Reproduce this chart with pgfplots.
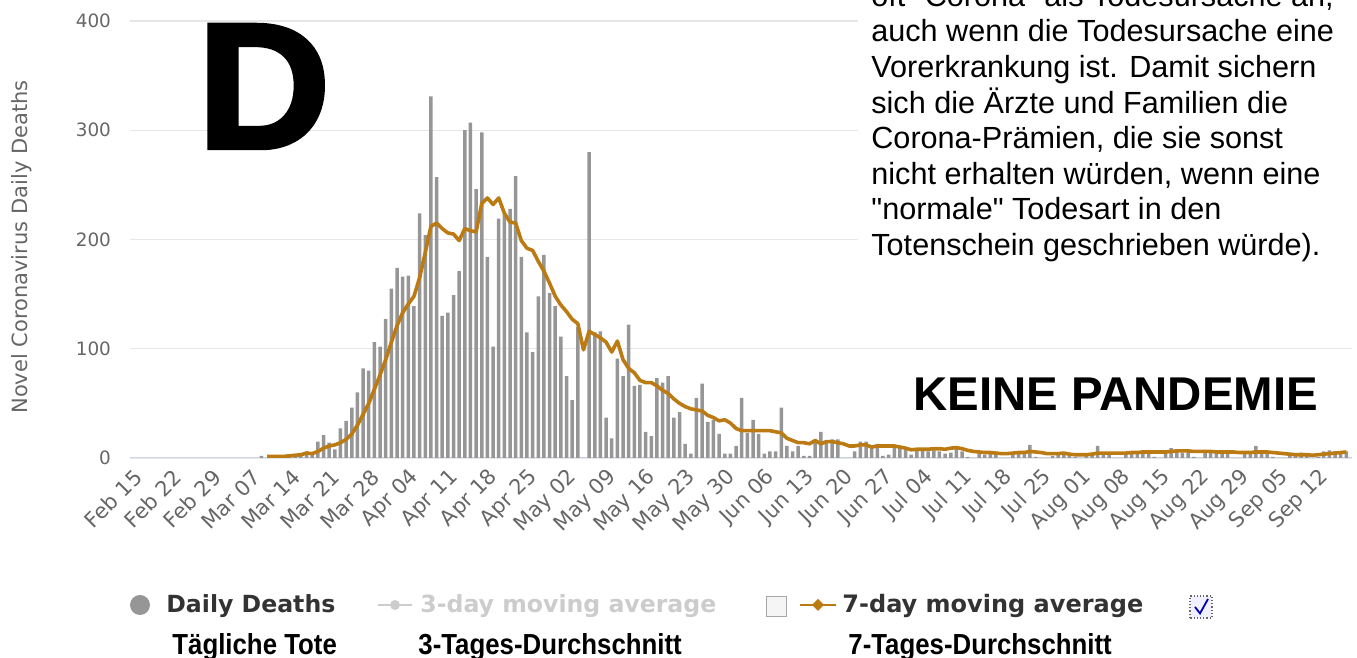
\documentclass[border=0pt]{standalone}
\usepackage{fontspec}
\setmainfont{DejaVu Sans}
\newfontfamily\arial{Liberation Sans}
\newfontfamily\heavy[FakeBold=2.5]{Liberation Sans Bold}
\newfontfamily\narrowb[FakeStretch=0.89]{Liberation Sans Bold}
\usepackage{pgfplots}
\pgfplotsset{compat=1.18}
\usepackage{pgfplotstable}
\definecolor{barGray}{RGB}{150,150,150}
\definecolor{lineOrange}{RGB}{188,122,18}
\definecolor{gridGray}{RGB}{230,230,230}
\definecolor{axisBlue}{RGB}{204,214,235}
\definecolor{tickGray}{RGB}{102,102,102}
\definecolor{legendDark}{RGB}{51,51,51}
\definecolor{legendLight}{RGB}{204,204,204}

\pgfplotstableread{
d v
23 2
24 0
25 1
26 1
27 2
28 1
29 3
30 2
31 6
32 3
33 15
34 21
35 14
36 8
37 27
38 34
39 46
40 60
41 82
42 80
43 106
44 102
45 127
46 155
47 174
48 166
49 167
50 139
51 224
52 204
53 331
54 257
55 130
56 133
57 149
58 171
59 300
60 307
61 246
62 298
63 184
64 102
65 219
66 223
67 228
68 258
69 184
70 115
71 97
72 148
73 186
74 151
75 139
76 111
77 75
78 53
79 120
80 0
81 280
82 115
83 116
84 37
85 18
86 91
87 75
88 122
89 66
90 67
91 24
92 20
93 73
94 69
95 75
96 37
97 42
98 13
99 4
100 55
101 68
102 33
103 35
104 22
105 4
106 4
107 11
108 55
109 23
110 35
111 22
112 4
113 6
114 6
115 46
116 11
117 6
118 11
119 2
120 2
121 14
122 24
123 14
124 17
125 17
126 0
127 0
128 6
129 15
130 15
131 9
132 13
133 2
134 3
135 12
136 9
137 8
138 3
139 7
140 8
141 6
142 7
143 6
144 4
145 5
146 9
147 6
148 1
149 0
150 4
151 3
152 5
153 4
154 0
155 0
156 5
157 6
158 4
159 12
160 1
161 0
162 0
163 2
164 4
165 5
166 4
167 1
168 0
169 3
170 5
171 11
172 5
173 4
174 0
175 0
176 4
177 6
178 5
179 7
180 6
181 1
182 0
183 6
184 9
185 7
186 5
187 6
188 1
189 0
190 5
191 7
192 6
193 5
194 4
195 0
196 0
197 4
198 6
199 11
200 5
201 5
202 1
203 0
204 0
205 4
206 3
207 5
208 4
209 0
210 1
211 6
212 7
213 6
214 5
215 6
}\bars

\pgfplotstableread{
d v
24 1.5
25 1.5
26 1.5
27 1.5
28 2
29 2.5
30 3
31 4.5
32 4
33 6
34 9
35 11
36 12
37 14
38 17
39 22
40 30
41 40
42 50
43 63
44 76
45 90
46 106
47 121
48 133
49 141
50 148
51 165
52 188
53 212
54 215
55 210
56 206
57 205
58 199
59 210
60 208
61 207
62 233
63 238
64 232
65 238
66 224
67 216
68 215
69 199
70 192
71 190
72 180
73 171
74 160
75 148
76 140
77 134
78 127
79 123
80 99
81 116
82 113
83 110
84 106
85 97
86 107
87 90
88 82
89 78
90 71
91 69
92 69
93 66
94 62
95 59
96 54
97 50
98 47
99 45
100 44
101 43
102 39
103 37
104 34
105 35
106 32
107 27
108 25
109 25
110 25
111 25
112 25
113 25
114 24
115 23
116 18
117 16
118 14
119 14
120 13
121 16
122 13
123 15
124 15
125 14
126 13
127 11
128 11
129 12
130 12
131 10
132 11
133 11
134 11
135 11
136 10
137 9
138 7.5
139 8
140 8
141 8
142 8.5
143 8.5
144 8
145 9
146 9.5
147 8.5
148 7
149 6
150 5.5
151 5
152 5
153 4.5
154 4
155 4
156 4.5
157 5
158 5
159 6
160 5.5
161 5
162 4
163 4
164 4
165 4.5
166 3.5
167 3
168 3
169 3
170 3.5
171 4.5
172 4.5
173 4.5
174 4.5
175 4.5
176 4.5
177 5
178 5
179 5.5
180 5.5
181 5.5
182 5.5
183 5.5
184 6
185 6.5
186 6.5
187 6.5
188 6
189 6
190 6
191 6
192 5.5
193 5.5
194 5.5
195 5.5
196 5
197 5
198 5
199 5.5
200 5.5
201 5.5
202 5
203 4.5
204 4
205 3.5
206 3
207 3
208 3
209 2.5
210 3
211 3.5
212 4
213 4.5
214 5
215 5.5
}\avg

\begin{document}
\begin{tikzpicture}
\useasboundingbox (0,0) rectangle (678.5pt,329pt);
\begin{axis}[
  at={(65pt,100pt)}, anchor=south west,
  width=611pt, height=218.5pt, scale only axis,
  xmin=-0.25, xmax=216, ymin=0, ymax=400,
  ytick={0,100,200,300,400},
  xtick={0,7,...,210},
  xticklabels={Feb 15,Feb 22,Feb 29,Mar 07,Mar 14,Mar 21,Mar 28,Apr 04,Apr 11,Apr 18,Apr 25,May 02,May 09,May 16,May 23,May 30,Jun 06,Jun 13,Jun 20,Jun 27,Jul 04,Jul 11,Jul 18,Jul 25,Aug 01,Aug 08,Aug 15,Aug 22,Aug 29,Sep 05,Sep 12},
  axis line style={draw=none},
  major tick length=0pt,
  ymajorgrids, grid style={color=gridGray, line width=0.6pt},
  xticklabel style={rotate=45, anchor=east, font=\fontsize{10.5}{11}\selectfont, text=tickGray, inner sep=0pt, xshift=-3pt, yshift=-8pt},
  yticklabel style={font=\fontsize{9.2}{10}\selectfont, text=tickGray, xshift=-6pt},
  /pgf/number format/assume math mode=true,
]
\draw[axisBlue, line width=0.8pt] (axis cs:-0.25,0) -- (axis cs:216,0);
\addplot[ybar, bar width=1.75pt, fill=barGray, draw=none] table[x=d,y=v]{\bars};
\addplot[lineOrange, line width=1.8pt, no marks, line join=round] table[x=d,y=v]{\avg};
\end{axis}
% y label
\node[rotate=90, text=tickGray, font=\fontsize{10.5}{11}\selectfont] at (11pt,205.5pt) {Novel Coronavirus Daily Deaths};
% big D
\node[anchor=base west, inner sep=0pt, font=\heavy\fontsize{89.4}{90}\selectfont, xscale=1.03] at (98.5pt,255pt) {D};
% white box for text
\fill[white] (429pt,329pt) rectangle (678.5pt,196pt);
\begin{scope}[every node/.style={anchor=base west, inner sep=0pt, font=\arial\fontsize{15.3}{17}\selectfont}]
\node at (435.5pt,325.7pt) {oft "Corona" als Todesursache an,};
\node at (435.5pt,308pt) {auch wenn die Todesursache eine};
\node at (435.5pt,290.2pt) {Vorerkrankung ist. Damit sichern};
\node at (435.5pt,272.4pt) {sich die Ärzte und Familien die};
\node at (435.5pt,254.6pt) {Corona-Prämien, die sie sonst};
\node at (435.5pt,236.8pt) {nicht erhalten würden, wenn eine};
\node at (435.5pt,219pt) {"normale" Todesart in den};
\node at (435.5pt,201.2pt) {Totenschein geschrieben würde).};
\end{scope}
\node[anchor=base west, inner sep=0pt, font=\arial\bfseries\fontsize{23.7}{24}\selectfont] at (456.5pt,123.5pt) {KEINE PANDEMIE};
% legend row 1
\fill[barGray] (70pt,26.5pt) circle (5pt);
\node[anchor=base west, inner sep=0pt, text=legendDark, font=\bfseries\fontsize{11.8}{12}\selectfont] at (83pt,22.5pt) {Daily Deaths};
\draw[legendLight, line width=1pt] (189pt,26.5pt) -- (206pt,26.5pt);
\fill[legendLight] (197.5pt,26.5pt) circle (2.5pt);
\node[anchor=base west, inner sep=0pt, text=legendLight, font=\bfseries\fontsize{11.8}{12}\selectfont] at (210pt,22.5pt) {3-day moving average};
\draw[gray!70, fill=gray!8, line width=0.5pt] (383pt,20.5pt) rectangle (393pt,30.5pt);
\draw[lineOrange, line width=1pt] (400pt,26.5pt) -- (418pt,26.5pt);
\fill[lineOrange] (409pt,29.5pt) -- (412pt,26.5pt) -- (409pt,23.5pt) -- (406pt,26.5pt) -- cycle;
\node[anchor=base west, inner sep=0pt, text=legendDark, font=\bfseries\fontsize{12}{12}\selectfont] at (421pt,22.5pt) {7-day moving average};
\draw[black!60, densely dotted, fill=blue!6, line width=0.6pt] (595pt,20pt) rectangle (606pt,31pt);
\draw[blue!70!black, line width=0.9pt] (597.5pt,25.5pt) -- (600pt,22.3pt) -- (604pt,29.5pt);
% legend row 2
\begin{scope}[every node/.style={anchor=base west, inner sep=0pt, font=\narrowb\fontsize{14.5}{15}\selectfont}]
\node at (86pt,1.8pt) {Tägliche Tote};
\node at (209pt,1.8pt) {3-Tages-Durchschnitt};
\node at (424pt,1.8pt) {7-Tages-Durchschnitt};
\end{scope}
\end{tikzpicture}
\end{document}
